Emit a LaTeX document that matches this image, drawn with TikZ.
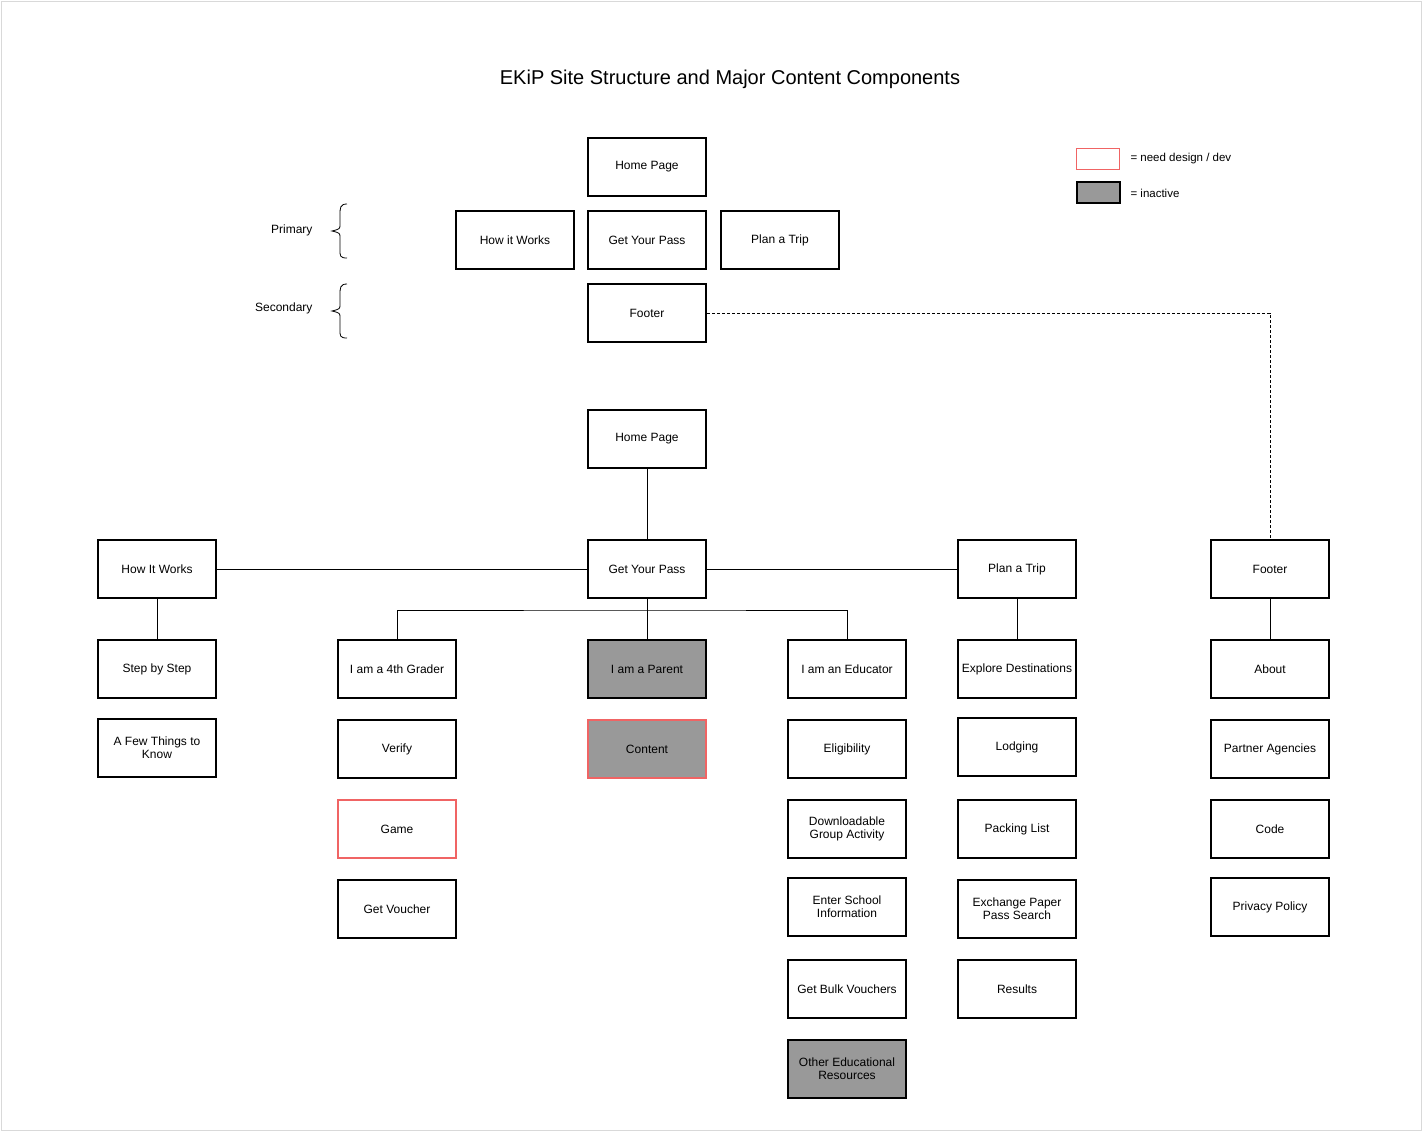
\documentclass[tikz,border=0pt]{standalone}
\usepackage{fontspec}
\setmainfont{Liberation Sans}
\begin{document}
\begin{tikzpicture}[x=1pt,y=-1pt,
  box/.style={draw=black,line width=2.5pt,minimum width=118pt,minimum height=58pt,align=center,font=\fontsize{12}{13}\selectfont,inner sep=1pt,fill=white},
  gray/.style={fill=gray!80},
  red/.style={draw={rgb,255:red,240;green,100;blue,100}},
  lbl/.style={font=\fontsize{12}{14}\selectfont},
  edge/.style={line width=0.8pt}]
\useasboundingbox (0,0) rectangle (1422,1131);
\draw[gray!30] (1,1) rectangle (1421,1130);
\node[font=\fontsize{20}{24}\selectfont] (title) at (730,79) {EKiP Site Structure and Major Content Components};
% top
\node[box] (tHome) at (647,167) {Home Page};
\node[box] (tHow) at (515,240) {How it Works};
\node[box] (tGYP) at (647,240) {Get Your Pass};
\node[box] (tPlan) at (780,240) {Plan a Trip};
\node[box] (tFoot) at (647,313) {Footer};
\node[lbl,anchor=east] (prim) at (316,230) {Primary};
\node[lbl,anchor=east] (sec) at (316,308) {Secondary};
\draw[edge] (347,204) .. controls (340,204) and (340,208) .. (340,215) -- (340,224) .. controls (340,229) .. (332,231) .. controls (340,233) .. (340,238) -- (340,250) .. controls (340,256) and (340,258) .. (347,258);
\draw[edge] (347,284) .. controls (340,284) and (340,288) .. (340,295) -- (340,304) .. controls (340,309) .. (332,311) .. controls (340,313) .. (340,318) -- (340,330) .. controls (340,336) and (340,338) .. (347,338);
% legend
\node[draw={rgb,255:red,240;green,100;blue,100},minimum width=43pt,minimum height=21pt,inner sep=0pt] (lg1) at (1098,159) {};
\node[draw=black,line width=2pt,fill=gray!80,minimum width=43pt,minimum height=21pt,inner sep=0pt] (lg2) at (1098,193) {};
\node[lbl,anchor=west,font=\fontsize{11.5}{13}\selectfont] (lt1) at (1127,159) {= need design / dev};
\node[lbl,anchor=west,font=\fontsize{11.5}{13}\selectfont] (lt2) at (1127,193) {= inactive};
% tree
\node[box] (home) at (647,439) {Home Page};
\node[box] (how) at (157,569) {How It Works};
\node[box] (gyp) at (647,569) {Get Your Pass};
\node[box] (plan) at (1017,569) {Plan a Trip};
\node[box] (foot) at (1270,569) {Footer};
\node[box] (step) at (157,669) {Step by Step};
\node[box] (few) at (157,748) {A Few Things to\\Know};
\node[box] (g4) at (397,669) {I am a 4th Grader};
\node[box] (verify) at (397,749) {Verify};
\node[box,red] (game) at (397,829) {Game};
\node[box] (voucher) at (397,909) {Get Voucher};
\node[box,gray] (parent) at (647,669) {I am a Parent};
\node[box,gray,red] (content) at (647,749) {Content};
\node[box] (edu) at (847,669) {I am an Educator};
\node[box] (elig) at (847,749) {Eligibility};
\node[box] (down) at (847,829) {Downloadable\\Group Activity};
\node[box] (school) at (847,907) {Enter School\\Information};
\node[box] (bulk) at (847,989) {Get Bulk Vouchers};
\node[box,gray] (other) at (847,1069) {Other Educational\\Resources};
\node[box] (explore) at (1017,669) {Explore Destinations};
\node[box] (lodging) at (1017,747) {Lodging};
\node[box] (pack) at (1017,829) {Packing List};
\node[box] (exch) at (1017,909) {Exchange Paper\\Pass Search};
\node[box] (res) at (1017,989) {Results};
\node[box] (about) at (1270,669) {About};
\node[box] (partner) at (1270,749) {Partner Agencies};
\node[box] (code) at (1270,829) {Code};
\node[box] (priv) at (1270,907) {Privacy Policy};
% edges
\begin{scope}[on background layer/.style={}]
\draw[edge] (home.south) -- (gyp.north);
\draw[edge] (gyp.west) -- (how.east);
\draw[edge] (gyp.east) -- (plan.west);
\draw[edge] (how.south) -- (step.north);
\draw[edge] (plan.south) -- (explore.north);
\draw[edge] (foot.south) -- (about.north);
\coordinate (bar) at (647,610);
\draw[edge] (gyp.south) -- (parent.north);
\draw[edge] (g4.north) |- (bar) -| (edu.north);
\coordinate (dc) at (1270,313);
\draw[edge,dashed,dash pattern=on 3pt off 2pt] (tFoot.east) -- (dc) -- (foot.north);
\end{scope}
\end{tikzpicture}
\end{document}
